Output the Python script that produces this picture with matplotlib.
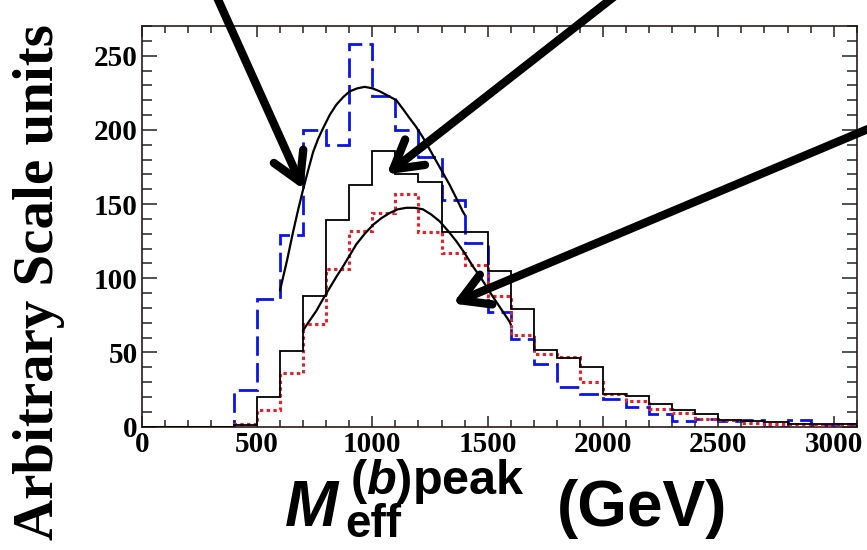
import numpy as np
import matplotlib

matplotlib.use("Agg")
import matplotlib.pyplot as plt
from matplotlib.ticker import MultipleLocator

plt.rcParams["mathtext.fontset"] = "custom"
plt.rcParams["mathtext.rm"] = "Liberation Sans:bold"
plt.rcParams["mathtext.it"] = "Liberation Sans:italic:bold"

# histogram contents, 100 GeV bins from 0 to 3100 GeV
bin_edges = np.arange(0, 3200, 100)
blue_dashed = [0, 0, 0, 0, 25, 86, 129, 200, 190, 258, 223, 200, 182, 153, 124, 77,
               59, 42, 27, 22, 19, 13.5, 8.5, 4, 5, 4, 4.5, 0, 4.5, 1, 2]
black_solid = [0, 0, 0, 0, 1, 20, 51, 88, 139, 163, 186, 170, 165, 131, 131, 105,
               79, 52, 46, 40, 22, 21, 15, 11, 8.5, 4.5, 4, 3.5, 2, 2, 2]
red_dotted = [0, 0, 0, 0, 2, 11, 36, 69, 106, 132, 144, 157, 131, 117, 109, 88,
              62, 49, 47, 30, 22, 17.5, 12, 9, 5, 4.5, 2.5, 2, 2, 1, 2]

# fitted curves
fit_hi_x = [600, 615, 630, 645, 656, 678, 700, 722, 743, 765, 786, 815, 844, 873, 902,
            935, 967, 1000, 1032, 1068, 1104, 1133, 1161, 1190, 1219, 1248, 1277,
            1306, 1335, 1364, 1392, 1400]
fit_hi_y = [92, 102, 112, 123, 131, 146, 160, 173, 185, 194, 201, 210, 217, 222, 226,
            228, 229, 228, 226, 223, 220, 214, 208, 202, 195, 187, 179, 171, 163,
            154, 145, 143]
fit_lo_x = [700, 728, 757, 786, 815, 844, 873, 902, 931, 967, 1003, 1039, 1075, 1111,
            1147, 1183, 1219, 1255, 1291, 1328, 1364, 1400, 1436, 1472, 1508, 1551,
            1594, 1600]
fit_lo_y = [65, 71.5, 78, 86, 93.5, 101, 108, 115.5, 123, 130, 136, 140.5, 144, 146.5,
            147.5, 147.5, 146.5, 143, 138.5, 132, 125, 117, 108, 100, 91, 81, 71, 69]

# arrows: (tail, tip) in data units
arrows = [
    ((310, 295), (701, 160)),
    ((2091, 295), (1062, 170)),
    ((3201, 204), (1349, 83)),
]

W, H = 867, 550
fig = plt.figure(figsize=(W / 100, H / 100), dpi=100)
ax = fig.add_axes([141.7 / W, 1 - 426.7 / H, (856.7 - 141.7) / W, (426.7 - 26) / H])

ax.stairs(blue_dashed, bin_edges, color="#0a14e6", lw=2.0, ls=(0, (7, 2.6)), zorder=2)
ax.stairs(red_dotted, bin_edges, color="#e8202a", lw=2.2, ls=(0, (1.1, 1.1)), zorder=3)
ax.stairs(black_solid, bin_edges, color="black", lw=1.3, zorder=4)
ax.plot(fit_hi_x, fit_hi_y, color="black", lw=1.6, zorder=5)
ax.plot(fit_lo_x, fit_lo_y, color="black", lw=1.6, zorder=5)

for tail, tip in arrows:
    ax.annotate("", xy=tip, xytext=tail, annotation_clip=False, zorder=10,
                arrowprops=dict(arrowstyle="->,head_length=1.0,head_width=0.58",
                                lw=6, color="black", shrinkA=0, shrinkB=0,
                                mutation_scale=20))

ax.set_xlim(0, 3100)
ax.set_ylim(0, 270)
ax.set_xticks(range(0, 3001, 500))
ax.set_yticks(range(0, 251, 50))
ax.xaxis.set_minor_locator(MultipleLocator(100))
ax.yaxis.set_minor_locator(MultipleLocator(10))
ax.tick_params(which="both", direction="in", top=True, right=True, width=1.1, color="#222222")
ax.tick_params(axis="x", which="major", length=8, pad=3)
ax.tick_params(axis="x", which="minor", length=5)
ax.tick_params(axis="y", which="major", length=11, pad=3)
ax.tick_params(axis="y", which="minor", length=7)
for spine in ax.spines.values():
    spine.set_linewidth(1.2)
    spine.set_color("#2a1a1a")

tick_font = dict(family="Liberation Serif", weight="bold", size=21)
for lab in ax.get_xticklabels() + ax.get_yticklabels():
    lab.set_fontproperties(matplotlib.font_manager.FontProperties(**tick_font))

# y-axis title
fig.text(53 / W, 1 - 282 / H, "Arbitrary Scale units", rotation=90,
         rotation_mode="anchor", ha="center", va="baseline",
         family="Liberation Serif", weight="bold", fontsize=41)

# x-axis title, built from pieces
sans = "Liberation Sans"
def px(x, y):
    return x / W, 1 - y / H

fig.text(*px(285, 526), "M", family=sans, weight="bold", style="italic", fontsize=46, va="baseline")
fig.text(*px(345, 537), "eff", family=sans, weight="bold", fontsize=33, va="baseline")
fig.text(*px(350, 494), r"$(\mathit{b})\mathrm{peak}$", fontsize=35, va="baseline")
fig.text(*px(557, 526), "(GeV)", family=sans, weight="bold", fontsize=46, va="baseline")

fig.savefig("out.png", dpi=100)
